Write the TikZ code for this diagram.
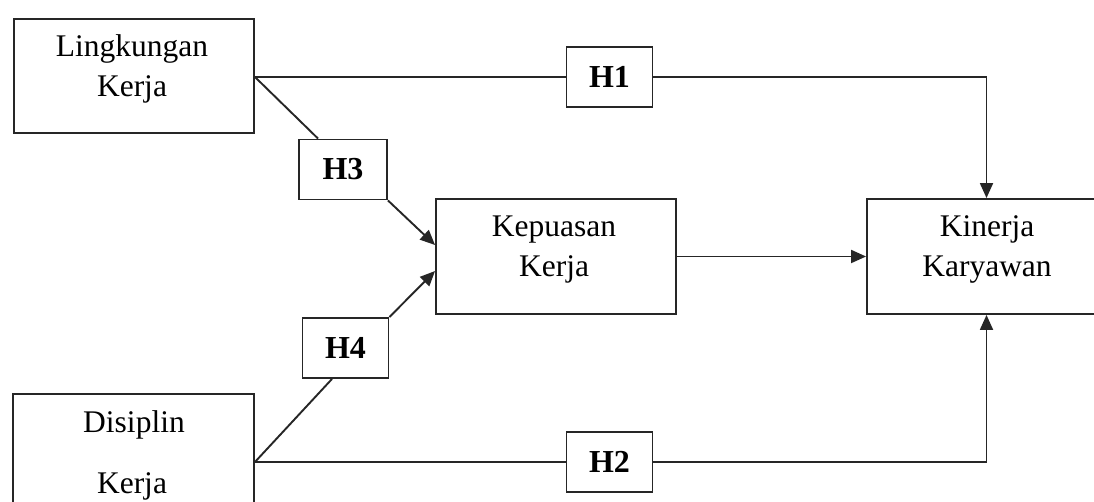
\documentclass[tikz,border=0pt]{standalone}
\usepackage{fontspec}
\setmainfont{Liberation Serif}
\usetikzlibrary{arrows.meta}
\begin{document}
\begin{tikzpicture}[x=1pt,y=-1pt,
  box/.style={draw=black!85,line width=1.9pt,rectangle,inner sep=0pt},
  hbox/.style={draw=black!85,line width=1.9pt,rectangle,inner sep=0pt,minimum width=86pt,minimum height=60pt,font=\fontsize{32}{36}\selectfont\bfseries},
  lbl/.style={anchor=base,inner sep=0pt,font=\fontsize{31.5}{36}\selectfont},
  conn/.style={draw=black!85,line width=1.9pt},
  arr/.style={conn,-{Triangle[length=15pt,width=13pt]}}]
\useasboundingbox (0,0) rectangle (1094,502);
\fill[white] (0,0) rectangle (1094,502);
% boxes
\node[box,minimum width=240pt,minimum height=114pt] (lk) at (134,76) {};
\node[box,minimum width=241pt,minimum height=136pt] (dk) at (133.5,462) {};
\node[box,minimum width=240pt,minimum height=115pt] (kp) at (556,256.5) {};
\node[box,minimum width=243pt,minimum height=115pt] (kk) at (988.5,256.5) {};
% hypothesis boxes
\node[hbox] (h1) at (609.5,77) {H1};
\node[hbox] (h2) at (609.5,462) {H2};
\node[hbox,minimum width=88pt] (h3) at (343,169.5) {H3};
\node[hbox] (h4) at (345.5,348) {H4};
% texts
\node[lbl] (t1) at (132,57) {Lingkungan};
\node[lbl] (t2) at (132,97) {Kerja};
\node[lbl] (t3) at (554,237) {Kepuasan};
\node[lbl] (t4) at (554,277) {Kerja};
\node[lbl] (t5) at (987,237) {Kinerja};
\node[lbl] (t6) at (987,277) {Karyawan};
\node[lbl] (t7) at (134,432) {Disiplin};
\node[lbl] (t8) at (132,493) {Kerja};
% out points
\coordinate (lkout) at (lk.east |- h1.west);
\coordinate (dkout) at (dk.east |- h2.west);
% connectors
\draw[conn] (lkout) -- (h1.west);
\draw[arr] (h1.east) -| ([xshift=-2pt]kk.north);
\draw[conn] (dkout) -- (h2.west);
\draw[arr] (h2.east) -| ([xshift=-2pt]kk.south);
\draw[conn] (lkout) -- ([xshift=-25pt]h3.north);
\draw[arr] (h3.south east) -- ([yshift=11.5pt]kp.west);
\draw[conn] (dkout) -- ([xshift=-13.5pt]h4.south);
\draw[arr] (h4.north east) -- ([yshift=-14.5pt]kp.west);
\draw[arr] (kp.east) -- (kk.west);
\end{tikzpicture}
\end{document}
